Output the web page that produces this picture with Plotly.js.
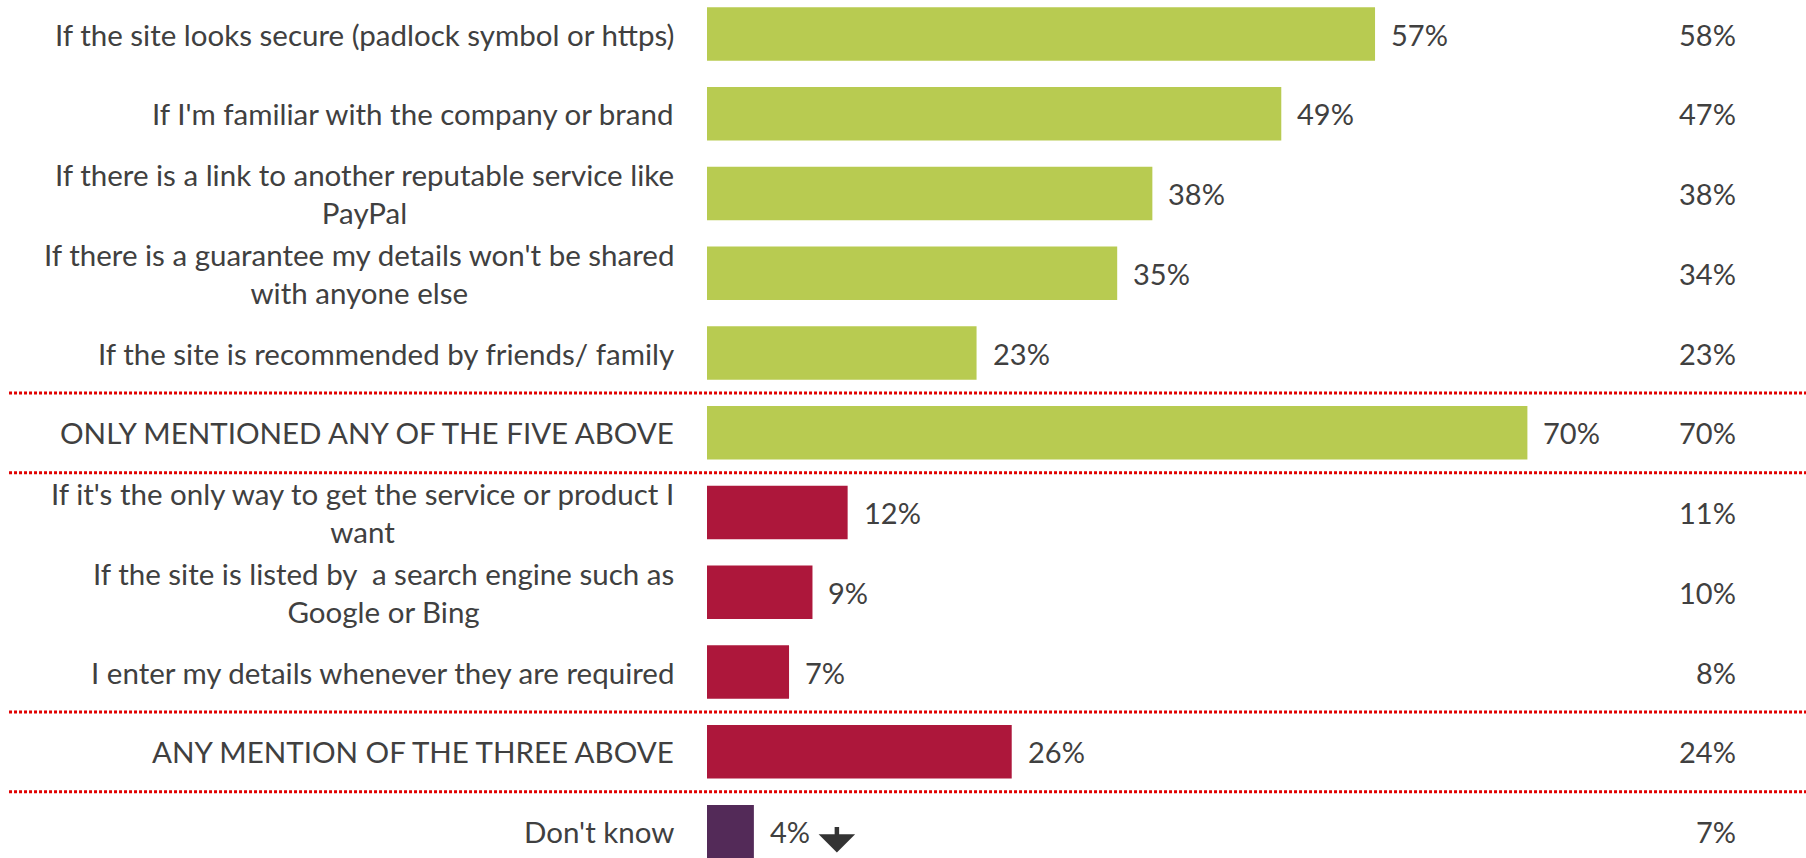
<!DOCTYPE html>
<html>
<head>
<meta charset="utf-8">
<script src="https://cdn.plot.ly/plotly-3.0.1.min.js"></script>
<style>html,body{margin:0;padding:0;background:#fff;}#chart{width:1806px;height:858px;}</style>
</head>
<body>
<div id="chart"></div>
<script>
const categories = [
  "If the site looks secure (padlock symbol or https)",
  "If I'm familiar with the company or brand",
  "If there is a link to another reputable service like<br>PayPal",
  "If there is a guarantee my details won't be shared<br>with anyone else",
  "If the site is recommended by friends/ family",
  "ONLY MENTIONED ANY OF THE FIVE ABOVE",
  "If it's the only way to get the service or product I<br>want",
  "If the site is listed by \u00a0a search engine such as<br>Google or Bing",
  "I enter my details whenever they are required",
  "ANY MENTION OF THE THREE ABOVE",
  "Don't know"
];
const values = [57, 49, 38, 35, 23, 70, 12, 9, 7, 26, 4];
const comparison = [58, 47, 38, 34, 23, 70, 11, 10, 8, 24, 7];
const groups = ["positive","positive","positive","positive","positive","positive","negative","negative","negative","negative","dontknow"];
const groupColors = {positive: "#B8CB51", negative: "#AD173B", dontknow: "#532A58"};
const separatorsAfter = [4, 5, 8, 9];
const arrowDownFor = ["Don't know"];

const FONT = "Lato, 'Open Sans', sans-serif";
const TXT = "#404040";
const idx = categories.map((_, i) => i);

const trace = {
  type: "bar",
  orientation: "h",
  x: values,
  y: idx,
  width: 0.67,
  marker: {color: groups.map(g => groupColors[g])},
  hoverinfo: "skip"
};

const annotations = [];
categories.forEach((c, i) => {
  annotations.push({
    xref: "paper", yref: "y", x: 676/1806, y: i,
    xanchor: "right", yanchor: "middle", align: "center",
    text: c, showarrow: false,
    font: {family: FONT, size: 29.5, color: TXT}
  });
  annotations.push({
    xref: "x", yref: "y", x: values[i], y: i,
    xanchor: "left", yanchor: "middle", xshift: 14,
    text: values[i] + "%", showarrow: false,
    font: {family: FONT, size: 29, color: TXT}
  });
  annotations.push({
    xref: "paper", yref: "y", x: 1738/1806, y: i,
    xanchor: "right", yanchor: "middle",
    text: comparison[i] + "%", showarrow: false,
    font: {family: FONT, size: 29, color: TXT}
  });
  if (arrowDownFor.includes(c)) {
    annotations.push({
      xref: "x", yref: "y", x: values[i], y: i,
      xshift: 83, yshift: -21,
      text: "", showarrow: true, ax: 0, ay: -27,
      arrowhead: 1, arrowsize: 1.35, arrowwidth: 4.5, arrowcolor: "#333333", standoff: 0
    });
  }
});

const shapes = separatorsAfter.map(s => ({
  type: "line", xref: "paper", yref: "y",
  x0: 0.005, x1: 1, y0: s + 0.5, y1: s + 0.5,
  line: {color: "#E00000", width: 3, dash: "3px,2px"}
}));

const pxPerUnit = 11.72, zeroPx = 707, W = 1806;
const H = 858, firstCenter = 34, pitch = 79.76;

const layout = {
  width: W, height: H,
  margin: {l: 0, r: 0, t: 0, b: 0, pad: 0},
  paper_bgcolor: "#ffffff", plot_bgcolor: "#ffffff",
  showlegend: false,
  xaxis: {range: [-zeroPx/pxPerUnit, (W - zeroPx)/pxPerUnit], visible: false, fixedrange: true},
  yaxis: {range: [(H - firstCenter)/pitch, -firstCenter/pitch], visible: false, fixedrange: true},
  annotations: annotations,
  shapes: shapes
};

Plotly.newPlot("chart", [trace], layout, {displayModeBar: false, staticPlot: true});
</script>
</body>
</html>
